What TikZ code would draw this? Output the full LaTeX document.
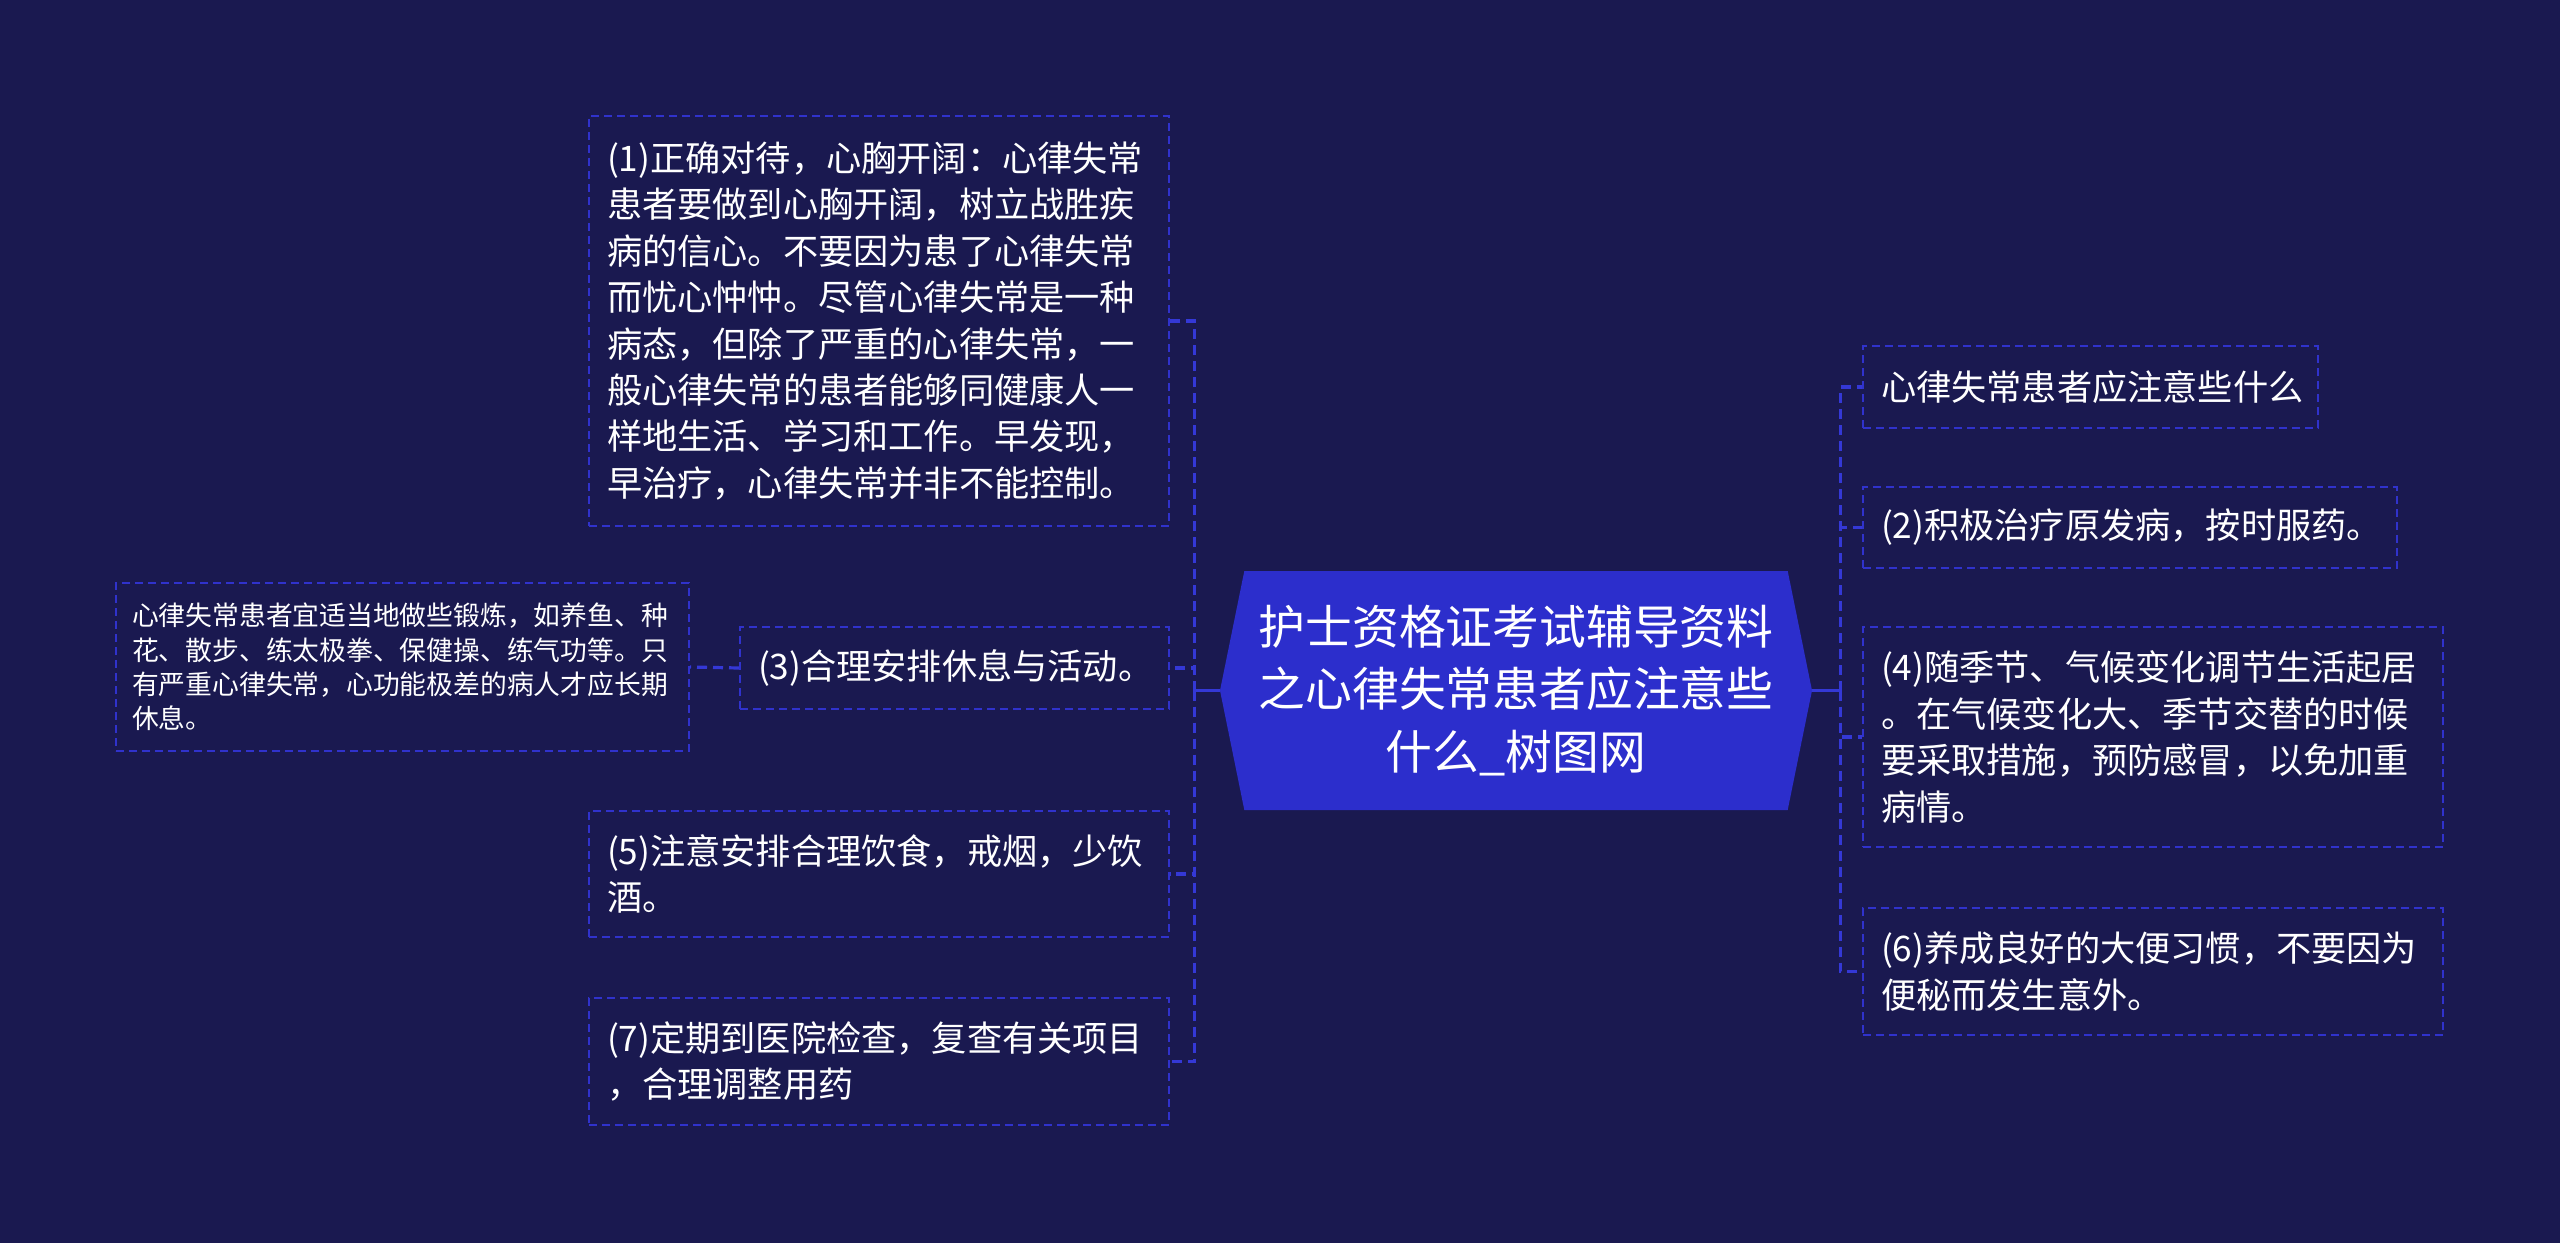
\documentclass[tikz,border=0pt]{standalone}
\usepackage{fontspec}
\setmainfont{Noto Sans CJK SC}
\usetikzlibrary{shapes.symbols, positioning}
\definecolor{bgnavy}{RGB}{26,25,80}
\definecolor{rootblue}{RGB}{44,46,204}
\definecolor{linkblue}{RGB}{52,56,214}
\definecolor{boxblue}{RGB}{48,50,204}
\tikzset{x=0.5pt, y=-0.5pt, % one unit is one pixel of the page, y runs down
leaf/.style={draw=boxblue, line width=1pt, dash pattern=on 4pt off 2.5pt, text=white, align=left, inner xsep=9pt, inner ysep=0pt, font=\fontsize{17.6pt}{23.2pt}\selectfont}, % dashed box round each point
small leaf/.style={leaf, inner xsep=8pt, font=\fontsize{13.4pt}{17.2pt}\selectfont}, % the note hanging off (3)
root/.style={signal, signal to=west and east, signal pointer angle=157, fill=rootblue, text=white, align=center, inner sep=0pt, font=\fontsize{23.4pt}{31.4pt}\selectfont}, % the title in the middle
link/.style={draw=linkblue, line width=1.6pt, dash pattern=on 5pt off 3pt}, % dashed branches
stub/.style={draw=linkblue, line width=1.6pt}, % short solid piece out of the title
elbow/.style={to path={|- (\tikztotarget)}}, % up or down, then across
}

\begin{document}
\begin{tikzpicture}
    \useasboundingbox (0,0) rectangle (2560,1243);
    \fill[bgnavy] (0,0) rectangle (2560,1243);

    \node[root, text width=262pt, minimum width=296pt, minimum height=119.5pt] (title) at (1516,690.5) {护士资格证考试辅导资料\\之心律失常患者应注意些\\什么\_树图网};

    % left side
    \node[leaf, text width=272pt, minimum height=205pt] (p1) at (879,321) {(1)正确对待，心胸开阔：心律失常\\患者要做到心胸开阔，树立战胜疾\\病的信心。不要因为患了心律失常\\而忧心忡忡。尽管心律失常是一种\\病态，但除了严重的心律失常，一\\般心律失常的患者能够同健康人一\\样地生活、学习和工作。早发现，\\早治疗，心律失常并非不能控制。};
    \node[leaf, text width=196.5pt, minimum height=41pt] (p3) at (954.5,668) {(3)合理安排休息与活动。};
    \node[small leaf, text width=270.5pt, minimum height=84pt] (p3a) at (402.5,667) {心律失常患者宜适当地做些锻炼，如养鱼、种\\花、散步、练太极拳、保健操、练气功等。只\\有严重心律失常，心功能极差的病人才应长期\\休息。};
    \node[leaf, text width=272pt, minimum height=63pt] (p5) at (879,874) {(5)注意安排合理饮食，戒烟，少饮\\酒。};
    \node[leaf, text width=272pt, minimum height=63.5pt] (p7) at (879,1061.5) {(7)定期到医院检查，复查有关项目\\，合理调整用药};

    % right side
    \node[leaf, text width=209.5pt, minimum height=41pt] (p0) at (2090.5,387) {心律失常患者应注意些什么};
    \node[leaf, text width=249pt, minimum height=40.5pt] (p2) at (2130,527.5) {(2)积极治疗原发病，按时服药。};
    \node[leaf, text width=272pt, minimum height=110pt] (p4) at (2153,737) {(4)随季节、气候变化调节生活起居\\。在气候变化大、季节交替的时候\\要采取措施，预防感冒，以免加重\\病情。};
    \node[leaf, text width=272pt, minimum height=63.5pt] (p6) at (2153,971.5) {(6)养成良好的大便习惯，不要因为\\便秘而发生意外。};

    \path (title.west) ++(-25,0) coordinate (ltrunk);
    \path (title.east) ++(28,0) coordinate (rtrunk);
    \draw[stub] (title.west) -- (ltrunk);
    \draw[stub] (title.east) -- (rtrunk);
    \draw[link] (ltrunk) edge[elbow] (p1.east)
    (ltrunk) edge[elbow] (p3.east)
    (ltrunk) edge[elbow] (p5.east)
    (ltrunk) edge[elbow] (p7.east);
    \draw[link] (rtrunk) edge[elbow] (p0.west)
    (rtrunk) edge[elbow] (p2.west)
    (rtrunk) edge[elbow] (p4.west)
    (rtrunk) edge[elbow] (p6.west);
    \draw[link] (p3.west) -- (p3a.east);
\end{tikzpicture}
\end{document}
